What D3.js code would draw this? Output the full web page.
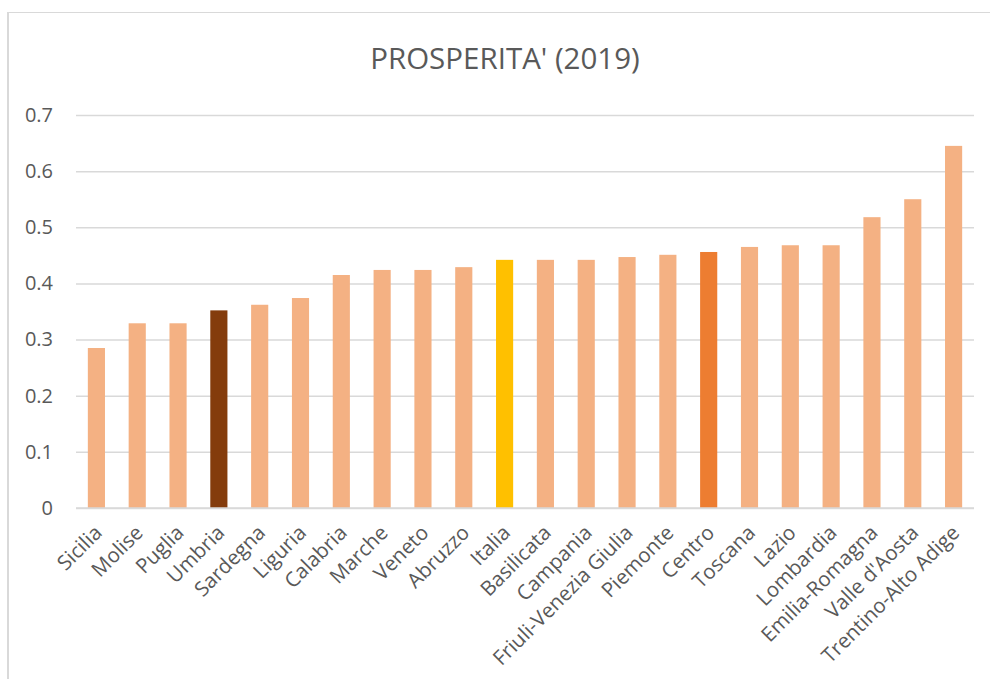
<!DOCTYPE html>
<html>
<head>
<meta charset="utf-8">
<script src="https://cdn.jsdelivr.net/npm/d3@7"></script>
<style>
  body { margin: 0; background: #fff; }
  text { font-family: "Open Sans", "Noto Sans", sans-serif; fill: #595959; }
</style>
</head>
<body>
<div id="chart"></div>
<script>
// Chart data
const regions = ['Sicilia', 'Molise', 'Puglia', 'Umbria', 'Sardegna', 'Liguria', 'Calabria',
  'Marche', 'Veneto', 'Abruzzo', 'Italia', 'Basilicata', 'Campania', 'Friuli-Venezia Giulia',
  'Piemonte', 'Centro', 'Toscana', 'Lazio', 'Lombardia', 'Emilia-Romagna', "Valle d'Aosta",
  'Trentino-Alto Adige'];
const values = [0.285, 0.329, 0.329, 0.352, 0.362, 0.374, 0.415, 0.424, 0.424, 0.429, 0.442,
  0.442, 0.442, 0.447, 0.451, 0.456, 0.465, 0.468, 0.468, 0.518, 0.550, 0.645];
const yTicks = [0, 0.1, 0.2, 0.3, 0.4, 0.5, 0.6, 0.7];
const highlight = { Umbria: '#843C0C', Italia: '#FFC000', Centro: '#ED7D31' };

const W = 990, H = 679;
const MARGIN = { TOP: 115, BOTTOM: 171, LEFT: 76, RIGHT: 16 };

const svg = d3.select('#chart').append('svg')
  .attr('width', W)
  .attr('height', H);

// Chart border (only top and left visible in the crop)
svg.append('line').attr('x1', 8).attr('x2', W).attr('y1', 12.5).attr('y2', 12.5)
  .attr('stroke', '#D9D9D9').attr('stroke-width', 1);
svg.append('line').attr('x1', 8).attr('x2', 8).attr('y1', 12).attr('y2', H)
  .attr('stroke', '#D9D9D9').attr('stroke-width', 2);

// Title
svg.append('text')
  .attr('x', 505)
  .attr('y', 69)
  .attr('text-anchor', 'middle')
  .style('font-size', '29.5px')
  .text("PROSPERITA' (2019)");

const x = d3.scaleBand()
  .domain(regions)
  .range([MARGIN.LEFT, W - MARGIN.RIGHT])
  .paddingInner(0.58)
  .paddingOuter(0.29);

const y = d3.scaleLinear()
  .domain([0, 0.7])
  .range([H - MARGIN.BOTTOM, MARGIN.TOP]);

// Gridlines + y labels
const yAxis = svg.append('g')
  .attr('transform', `translate(${MARGIN.LEFT},0)`)
  .call(d3.axisLeft(y).tickValues(yTicks).tickSize(-(W - MARGIN.RIGHT - MARGIN.LEFT)).tickPadding(23)
    .tickFormat(d => d === 0 ? '0' : d3.format('.1f')(d)));
yAxis.select('.domain').remove();
yAxis.selectAll('line').attr('stroke', '#D9D9D9').attr('stroke-width', 1.5);
yAxis.selectAll('text').style('font-size', '20px').attr('fill', '#595959');

// Bars
svg.append('g')
  .selectAll('rect')
  .data(regions)
  .enter()
  .append('rect')
  .attr('x', d => x(d))
  .attr('width', x.bandwidth())
  .attr('y', (d, i) => y(values[i]))
  .attr('height', (d, i) => y(0) - y(values[i]))
  .attr('fill', d => highlight[d] || '#F4B183');

// x-axis baseline
svg.append('line')
  .attr('x1', MARGIN.LEFT).attr('x2', W - MARGIN.RIGHT)
  .attr('y1', y(0)).attr('y2', y(0))
  .attr('stroke', '#D9D9D9').attr('stroke-width', 1.5);

// Rotated category labels
svg.append('g')
  .selectAll('text')
  .data(regions)
  .enter()
  .append('text')
  .attr('text-anchor', 'end')
  .attr('transform', d => `translate(${x(d) + x.bandwidth() / 2 + 7},${y(0) + 26}) rotate(-45)`)
  .style('font-size', '20.5px')
  .text(d => d);
</script>
</body>
</html>
